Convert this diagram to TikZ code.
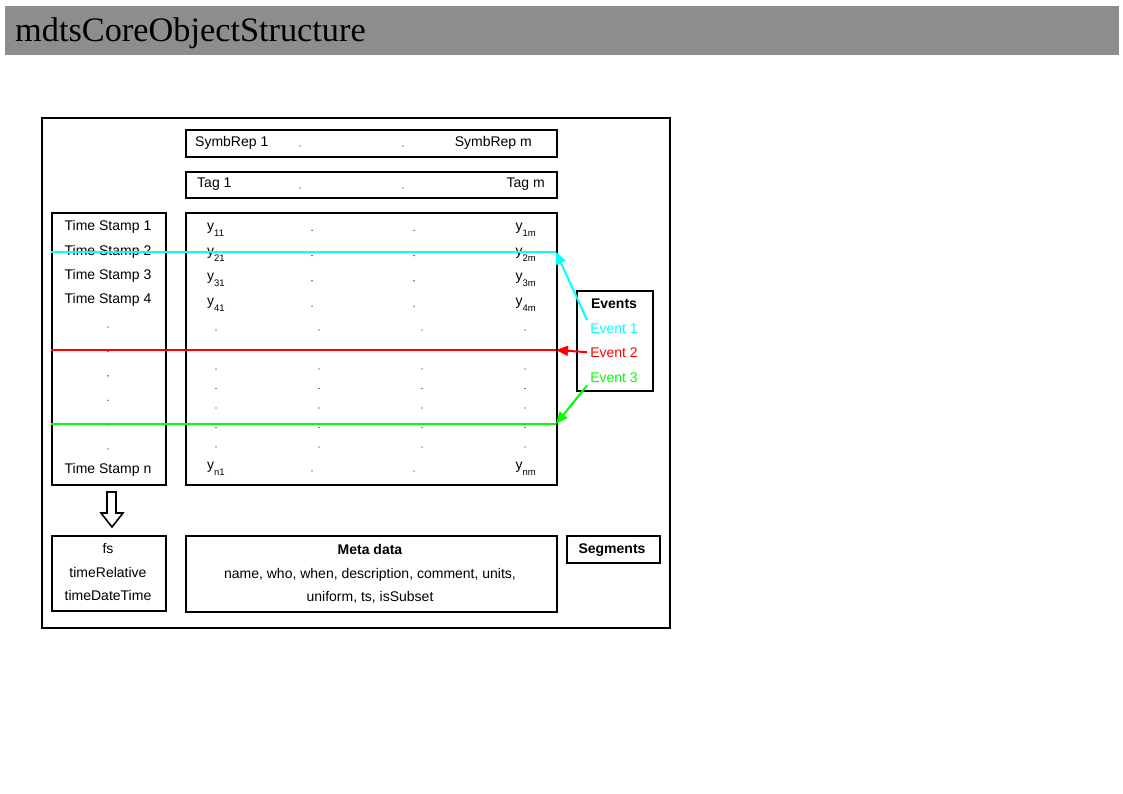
\documentclass[tikz,border=0pt]{standalone}
\usepackage{fontspec}
\setmainfont{Liberation Sans}
\newfontfamily\titlefont{Liberation Serif}
\usetikzlibrary{arrows.meta,positioning}

\definecolor{barGray}{RGB}{141,141,141}
\definecolor{evCyan}{RGB}{0,255,255}
\definecolor{evRed}{RGB}{255,0,0}
\definecolor{evGreen}{RGB}{0,255,0}

\newcommand{\TX}{108}
\newcommand{\NR}{4}
\newcommand{\YS}{25.3}
\newcommand{\ysub}[1]{y\raisebox{-6pt}{\fontsize{9.5}{9.5}\selectfont #1}}

\begin{document}
\begin{tikzpicture}[x=1pt,y=-1pt,
        blk/.style={draw,line width=1.8pt,inner sep=0pt,anchor=north west},
        txt/.style={inner sep=0pt,anchor=base,font=\fontsize{14}{16}\selectfont},
        evline/.style={line width=2pt},
        evarrow/.style={line width=2pt,-{Triangle[length=12pt,width=10pt]}}]

        \fill[white] (0,0) rectangle (1123,794);
        \useasboundingbox (0,0) rectangle (1123,794);

        % title bar
        \fill[barGray] (5,6) rectangle (1119,55);
        \node[anchor=base west,inner sep=0pt,font=\titlefont\fontsize{34.3}{40}\selectfont] (title) at (15,42) {mdtsCoreObjectStructure};

        % boxes
        \node[blk,minimum width=628,minimum height=510] (outer) at (41,117) {};
        \node[blk,minimum width=371,minimum height=27] (symb) at (185,129) {};
        \node[blk,minimum width=371,minimum height=26] (tag) at (185,171) {};
        \node[blk,minimum width=371,minimum height=272] (data) at (185,212) {};
        \node[blk,minimum width=114,minimum height=272] (ts) at (51,212) {};
        \node[blk,minimum width=76,minimum height=100] (events) at (576,290) {};
        \node[blk,minimum width=114,minimum height=75] (tbase) at (51,535) {};
        \node[blk,minimum width=371,minimum height=76] (meta) at (185,535) {};
        \node[blk,minimum width=93,minimum height=27] (seg) at (566,535) {};

        % symbolic representations and tags
        \node[txt,anchor=base west] (S1) at (195,147) {SymbRep 1};
        \node[txt,anchor=base east] (Sm) at (532,147) {SymbRep m};
        \node[txt,anchor=base west] (T1) at (197,188) {Tag 1};
        \node[txt,anchor=base east] (Tm) at (545,188) {Tag m};
        \foreach \X in {300,403} {
            \fill (\X,146) circle (0.7);
            \fill (\X,188) circle (0.7);
        }

        % time stamps
        \foreach \Y in {1,...,\NR} {
            \node[txt] (ts\Y) at (\TX,207+24*\Y) {Time Stamp \Y};
        }
        \foreach \Y in {0,...,5} {
            \fill (\TX,327+24.4*\Y) circle (0.7);
        }
        \node[txt] (tsn) at (\TX,473) {Time Stamp n};

        % data values
        \foreach \Y in {1,...,\NR} {
            \node[txt,anchor=base west] (y\Y-1) at (207,204.7+\YS*\Y) {\ysub{\Y1}};
            \node[txt,anchor=base east] (y\Y-m) at (536,204.7+\YS*\Y) {\ysub{\Y m}};
            \fill (312,205+\YS*\Y) circle (0.7);
            \fill (414,205+\YS*\Y) circle (0.7);
        }
        \foreach \Y in {0,...,6} {
            \foreach \X in {0,...,3} {
                \fill (216+103*\X,330+19.5*\Y) circle (0.7);
            }
        }
        \node[txt,anchor=base west] (yn-1) at (207,469) {\ysub{n1}};
        \node[txt,anchor=base east] (yn-m) at (536,469) {\ysub{nm}};
        \fill (312,471) circle (0.7);
        \fill (414,471) circle (0.7);

        % events
        \node[txt,font=\fontsize{14}{16}\selectfont\bfseries] (evh) at (614,308) {Events};
        \node[txt,inner sep=3pt,text=evCyan] (ev1) at (614,333) {Event 1};
        \node[txt,inner sep=3pt,text=evRed] (ev2) at (614,357) {Event 2};
        \node[txt,inner sep=3pt,text=evGreen] (ev3) at (614,382) {Event 3};

        \foreach \C/\Y [count=\I] in {evCyan/252, evRed/350, evGreen/424} {
            \path (51,\Y) coordinate (L\I);
            \path (556,\Y) coordinate (R\I);
            \draw[evline,\C] (L\I) -- (R\I);
        }
        \draw[evarrow,evCyan] (ev1.north west) -- (R1);
        \draw[evarrow,evRed] (ev2.west) -- (R2);
        \draw[evarrow,evGreen] (ev3.south west) -- (R3);

        % hollow arrow
        \draw[line width=1.6pt,line join=miter]
            (107,492) -- (116,492) -- (116,513) -- (123,513) --
            (112,527) -- (101,513) -- (107,513) -- cycle;

        % time base, meta data, segments
        \node[txt] (fs) at (\TX,553) {fs};
        \node[txt] (trel) at (\TX,577) {timeRelative};
        \node[txt] (tdt) at (\TX,600) {timeDateTime};
        \node[txt,font=\fontsize{14}{16}\selectfont\bfseries] (mh) at (370,554) {Meta data};
        \node[txt] (m1) at (370,578) {name, who, when, description, comment, units,};
        \node[txt] (m2) at (370,601) {uniform, ts, isSubset};
        \node[txt,font=\fontsize{14}{16}\selectfont\bfseries] (segh) at (612,553) {Segments};

    \end{tikzpicture}
\end{document}
